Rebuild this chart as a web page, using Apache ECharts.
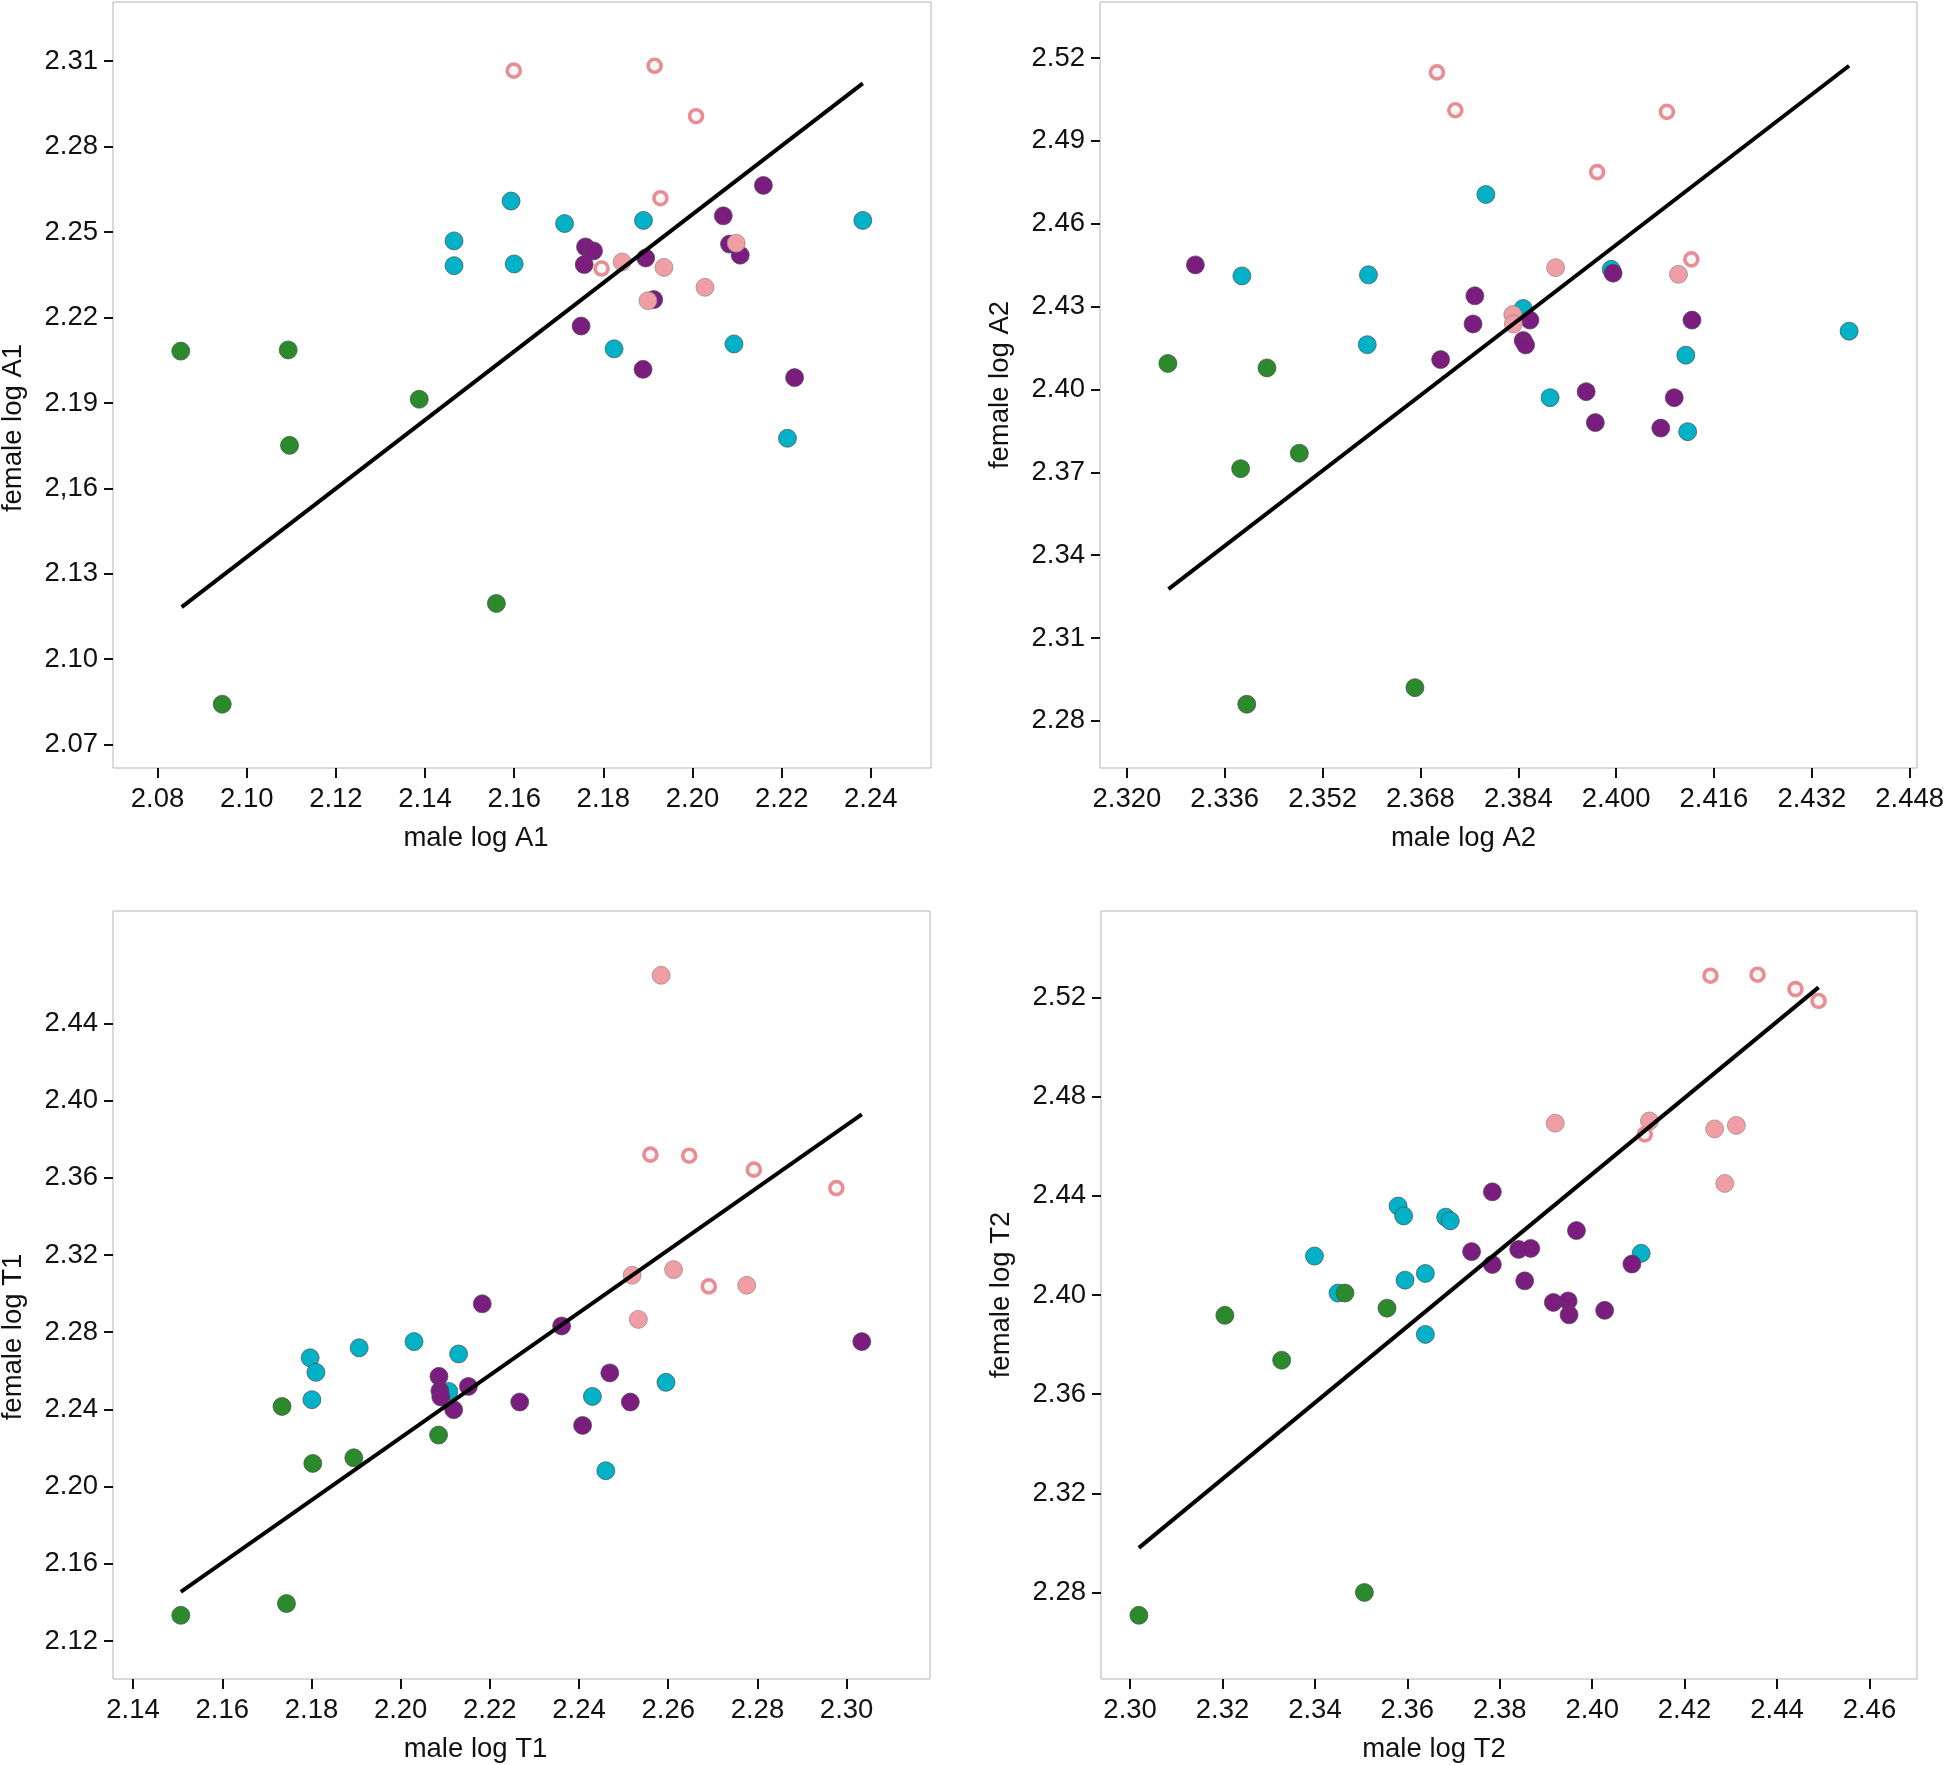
<!DOCTYPE html>
<html>
<head>
<meta charset="utf-8">
<script src="https://cdn.jsdelivr.net/npm/echarts@6/dist/echarts.min.js"></script>
<style>html,body{margin:0;padding:0;background:#fff}#c{width:1946px;height:1765px}</style>
</head>
<body>
<div id="c"></div>
<script>
// ---------- Panel A1 ----------
const a1Green  = [[2.0852,2.2082],[2.1093,2.2086],[2.1387,2.1913],[2.1096,2.1751],[2.1560,2.1196],[2.0945,2.0842]];
const a1Cyan   = [[2.1593,2.2609],[2.1465,2.2469],[2.1465,2.2382],[2.1600,2.2388],[2.1713,2.2530],[2.1890,2.2541],[2.1824,2.2090],[2.2093,2.2107],[2.2213,2.1776],[2.2382,2.2541]];
const a1Purple = [[2.1760,2.2448],[2.1778,2.2434],[2.1757,2.2386],[2.1895,2.2409],[2.1913,2.2263],[2.1750,2.2170],[2.1889,2.2018],[2.2069,2.2557],[2.2159,2.2664],[2.2083,2.2458],[2.2107,2.2419],[2.2229,2.1989]];
const a1Pink   = [[2.1842,2.2395],[2.1936,2.2376],[2.1900,2.2259],[2.2028,2.2306],[2.2098,2.2461]];
const a1Hollow = [[2.1599,2.3067],[2.1915,2.3084],[2.2008,2.2907],[2.1928,2.2619],[2.1796,2.2372]];
const a1Line   = [[2.0854,2.1183],[2.2382,2.3022]];
const a1XTicks = [2.08,2.10,2.12,2.14,2.16,2.18,2.20,2.22,2.24];
const a1XLabels = ["2.08","2.10","2.12","2.14","2.16","2.18","2.20","2.22","2.24"];
const a1YTicks = [2.07,2.10,2.13,2.16,2.19,2.22,2.25,2.28,2.31];
const a1YLabels = ["2.07","2.10","2.13","2,16","2.19","2.22","2.25","2.28","2.31"];

// ---------- Panel A2 ----------
const a2Green  = [[2.3267,2.4094],[2.3429,2.4078],[2.3386,2.3713],[2.3482,2.3769],[2.3396,2.2860],[2.3671,2.2920]];
const a2Cyan   = [[2.3388,2.4411],[2.3595,2.4415],[2.3593,2.4162],[2.3787,2.4706],[2.3848,2.4293],[2.3892,2.3970],[2.3992,2.4435],[2.4114,2.4124],[2.4117,2.3847],[2.4381,2.4211]];
const a2Purple = [[2.3312,2.4451],[2.3769,2.4339],[2.3766,2.4237],[2.3713,2.4108],[2.3859,2.4251],[2.3848,2.4177],[2.3852,2.4161],[2.3995,2.4421],[2.3951,2.3992],[2.3966,2.3880],[2.4073,2.3860],[2.4095,2.3970],[2.4124,2.4251]];
const a2Pink   = [[2.3901,2.4441],[2.3831,2.4271],[2.3832,2.4237],[2.4102,2.4417]];
const a2Hollow = [[2.3707,2.5148],[2.3737,2.5011],[2.3969,2.4787],[2.4083,2.5005],[2.4123,2.4471]];
const a2Line   = [[2.3268,2.3277],[2.4381,2.5172]];
const a2XTicks = [2.320,2.336,2.352,2.368,2.384,2.400,2.416,2.432,2.448];
const a2XLabels = ["2.320","2.336","2.352","2.368","2.384","2.400","2.416","2.432","2.448"];
const a2YTicks = [2.28,2.31,2.34,2.37,2.40,2.43,2.46,2.49,2.52];
const a2YLabels = ["2.28","2.31","2.34","2.37","2.40","2.43","2.46","2.49","2.52"];

// ---------- Panel T1 ----------
const t1Green  = [[2.1507,2.1333],[2.1744,2.1394],[2.1734,2.2415],[2.1803,2.2120],[2.1895,2.2149],[2.2085,2.2267]];
const t1Cyan   = [[2.1797,2.2667],[2.1810,2.2592],[2.1801,2.2450],[2.1907,2.2719],[2.2030,2.2751],[2.2130,2.2687],[2.2108,2.2493],[2.2430,2.2467],[2.2460,2.2082],[2.2595,2.2540]];
const t1Purple = [[2.2183,2.2947],[2.2086,2.2571],[2.2088,2.2496],[2.2090,2.2464],[2.2119,2.2398],[2.2152,2.2519],[2.2267,2.2438],[2.2361,2.2832],[2.2408,2.2317],[2.2469,2.2589],[2.2515,2.2438],[2.3034,2.2751]];
const t1Pink   = [[2.2584,2.4649],[2.2519,2.3095],[2.2612,2.3124],[2.2533,2.2866],[2.2776,2.3043]];
const t1Hollow = [[2.2560,2.3720],[2.2647,2.3714],[2.2792,2.3642],[2.2977,2.3546],[2.2691,2.3037]];
const t1Line   = [[2.1507,2.1454],[2.3034,2.3928]];
const t1XTicks = [2.14,2.16,2.18,2.20,2.22,2.24,2.26,2.28,2.30];
const t1XLabels = ["2.14","2.16","2.18","2.20","2.22","2.24","2.26","2.28","2.30"];
const t1YTicks = [2.12,2.16,2.20,2.24,2.28,2.32,2.36,2.40,2.44];
const t1YLabels = ["2.12","2.16","2.20","2.24","2.28","2.32","2.36","2.40","2.44"];

// ---------- Panel T2 ----------
const t2Green  = [[2.3019,2.2708],[2.3205,2.3918],[2.3328,2.3737],[2.3465,2.4008],[2.3556,2.3947],[2.3507,2.2800]];
const t2Cyan   = [[2.3399,2.4157],[2.3450,2.4008],[2.3580,2.4359],[2.3592,2.4319],[2.3595,2.4060],[2.3639,2.4087],[2.3639,2.3841],[2.3683,2.4314],[2.3693,2.4299],[2.4106,2.4168]];
const t2Purple = [[2.3784,2.4416],[2.3739,2.4175],[2.3784,2.4123],[2.3841,2.4184],[2.3867,2.4188],[2.3854,2.4057],[2.3916,2.3970],[2.3948,2.3976],[2.3950,2.3920],[2.3966,2.4260],[2.4027,2.3938],[2.4086,2.4125]];
const t2Pink   = [[2.3920,2.4693],[2.4124,2.4702],[2.4265,2.4670],[2.4312,2.4684],[2.4287,2.4450]];
const t2Hollow = [[2.4114,2.4648],[2.4256,2.5288],[2.4358,2.5292],[2.4440,2.5234],[2.4490,2.5186]];
const t2Line   = [[2.3019,2.2980],[2.4490,2.5241]];
const t2XTicks = [2.30,2.32,2.34,2.36,2.38,2.40,2.42,2.44,2.46];
const t2XLabels = ["2.30","2.32","2.34","2.36","2.38","2.40","2.42","2.44","2.46"];
const t2YTicks = [2.28,2.32,2.36,2.40,2.44,2.48,2.52];
const t2YLabels = ["2.28","2.32","2.36","2.40","2.44","2.48","2.52"];

const panels = [
  {name:'A1', green:a1Green, cyan:a1Cyan, purple:a1Purple, pink:a1Pink, hollow:a1Hollow, line:a1Line,
   xT:a1XTicks, xL:a1XLabels, yT:a1YTicks, yL:a1YLabels, xMin:2.0700, xMax:2.2535, yMin:2.0618, yMax:2.3308,
   grid:{left:113, top:2, width:818, height:766}, xShift:92, yShift:86},
  {name:'A2', green:a2Green, cyan:a2Cyan, purple:a2Purple, pink:a2Pink, hollow:a2Hollow, line:a2Line,
   xT:a2XTicks, xL:a2XLabels, yT:a2YTicks, yL:a2YLabels, xMin:2.3156, xMax:2.4492, yMin:2.2629, yMax:2.5403,
   grid:{left:1100, top:2, width:817, height:766}, xShift:90, yShift:0},
  {name:'T1', green:t1Green, cyan:t1Cyan, purple:t1Purple, pink:t1Pink, hollow:t1Hollow, line:t1Line,
   xT:t1XTicks, xL:t1XLabels, yT:t1YTicks, yL:t1YLabels, xMin:2.1355, xMax:2.3187, yMin:2.1003, yMax:2.4982,
   grid:{left:113, top:911, width:817, height:768}, xShift:92, yShift:84},
  {name:'T2', green:t2Green, cyan:t2Cyan, purple:t2Purple, pink:t2Pink, hollow:t2Hollow, line:t2Line,
   xT:t2XTicks, xL:t2XLabels, yT:t2YTicks, yL:t2YLabels, xMin:2.2937, xMax:2.4703, yMin:2.2451, yMax:2.5549,
   grid:{left:1101, top:911, width:816, height:768}, xShift:150, yShift:0}
];

const FONT = 'Liberation Sans, Arial, sans-serif';
const TXT = '#111';
const grids = [], xAxes = [], yAxes = [], series = [];

function labelFor(ticks, labels) {
  return function (v) {
    let best = 0, bd = Infinity;
    for (let i = 0; i < ticks.length; i++) { const d = Math.abs(ticks[i] - v); if (d < bd) { bd = d; best = i; } }
    return labels[best];
  };
}

panels.forEach((p, i) => {
  grids.push(Object.assign({show:true, borderColor:'#b4b4b4', borderWidth:1, backgroundColor:'#fff', outerBoundsMode:'none', containLabel:false}, p.grid));
  xAxes.push({
    type:'value', gridIndex:i, min:p.xMin, max:p.xMax,
    name:'male log ' + p.name, nameLocation:'middle', nameGap:56,
    nameTextStyle:{fontFamily:FONT, fontSize:27.5, color:TXT, padding:[0, p.xShift, 0, 0]},
    axisLine:{show:false}, splitLine:{show:false},
    axisTick:{show:true, length:10, customValues:p.xT, lineStyle:{color:'#111', width:2}},
    axisLabel:{customValues:p.xT, margin:17, fontFamily:FONT, fontSize:27.5, color:TXT, formatter:labelFor(p.xT, p.xL)}
  });
  yAxes.push({
    type:'value', gridIndex:i, min:p.yMin, max:p.yMax,
    name:'female log ' + p.name, nameLocation:'middle', nameGap:86, nameRotate:90,
    nameTextStyle:{fontFamily:FONT, fontSize:27.5, color:TXT, padding:[0, p.yShift, 0, 0]},
    axisLine:{show:false}, splitLine:{show:false},
    axisTick:{show:true, length:9, customValues:p.yT, lineStyle:{color:'#111', width:2}},
    axisLabel:{customValues:p.yT, margin:15, fontFamily:FONT, fontSize:27.5, color:TXT, formatter:labelFor(p.yT, p.yL)}
  });
  const base = {type:'scatter', xAxisIndex:i, yAxisIndex:i, symbol:'circle', symbolSize:18, silent:true, animation:false};
  series.push(Object.assign({}, base, {data:p.cyan,   z:2, itemStyle:{opacity:1, color:'#00b1c8', borderColor:'#4a4a4a', borderWidth:0.7}}));
  series.push(Object.assign({}, base, {data:p.green,  z:3, itemStyle:{opacity:1, color:'#2b8a2b', borderColor:'#4a4a4a', borderWidth:0.7}}));
  series.push(Object.assign({}, base, {data:p.purple, z:4, itemStyle:{opacity:1, color:'#7b1d7e', borderColor:'#4a4a4a', borderWidth:0.7}}));
  series.push(Object.assign({}, base, {data:p.pink,   z:5, itemStyle:{opacity:1, color:'#f09ea4', borderColor:'#8a8a8a', borderWidth:0.7}}));
  series.push(Object.assign({}, base, {data:p.hollow, z:6, symbolSize:13, itemStyle:{opacity:1, color:'#f7f7f7', borderColor:'#e98d95', borderWidth:3.6}}));
  series.push({type:'line', xAxisIndex:i, yAxisIndex:i, data:p.line, symbol:'none', silent:true, animation:false, z:7,
    lineStyle:{color:'#000', width:4}});
});

const chart = echarts.init(document.getElementById('c'), null, {renderer:'canvas'});
chart.setOption({animation:false, backgroundColor:'#fff', grid:grids, xAxis:xAxes, yAxis:yAxes, series:series});
</script>
</body>
</html>
